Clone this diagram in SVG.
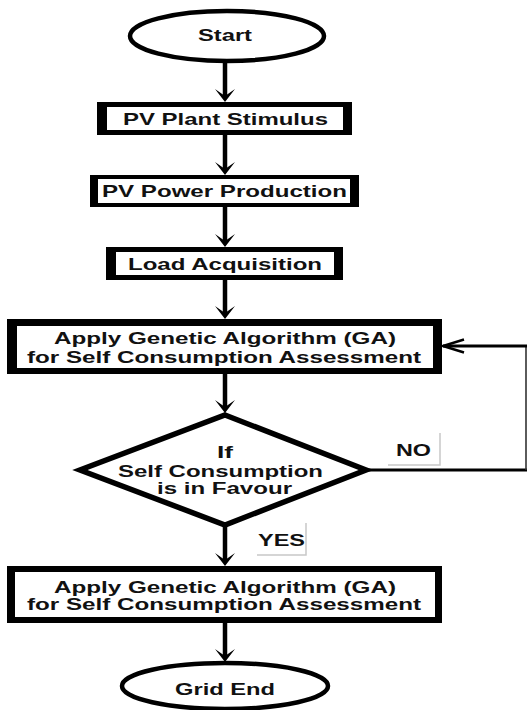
<svg xmlns="http://www.w3.org/2000/svg" width="529" height="710" viewBox="0 0 529 710">
<style>
  .t { font-family: "Liberation Sans", Arial, sans-serif; font-weight: bold; fill: #111; text-anchor: middle; }
  .box-o { fill: #000; }
  .box-i { fill: #fff; }
  .term { fill: #fff; stroke: #000; stroke-width: 4.5; }
  .dia { fill: #fff; stroke: #000; stroke-width: 5.5; stroke-linejoin: miter; }
  .arr { stroke: #000; stroke-width: 4.5; fill: none; marker-end: url(#ah); }
  .loop { stroke: #000; stroke-width: 3; fill: none; }
  .loopv { stroke: #333; stroke-width: 1.6; fill: none; }
  .shadow { stroke: #c8c8c8; stroke-width: 1.5; fill: none; }
</style>
<defs>
  <marker id="ah" markerUnits="userSpaceOnUse" orient="auto" refX="-6" refY="0" markerWidth="20" markerHeight="20" overflow="visible">
    <path d="M0,0 L-13,-10 L-6,0 L-13,10 Z" fill="#000"/>
  </marker>
  <marker id="ah2" markerUnits="userSpaceOnUse" orient="auto" refX="0" refY="0" markerWidth="24" markerHeight="16" overflow="visible">
    <path d="M-21,-6.5 L0,0 L-21,6.5" fill="none" stroke="#000" stroke-width="2.5"/>
  </marker>
</defs>
<rect width="529" height="710" fill="#fff"/>

<g id="connectors">
  <line class="arr" x1="225" y1="62" x2="225" y2="96"/>
  <line class="arr" x1="225" y1="135" x2="225" y2="169"/>
  <line class="arr" x1="225" y1="207" x2="225" y2="241"/>
  <line class="arr" x1="225" y1="280" x2="225" y2="313"/>
  <line class="arr" x1="225" y1="374" x2="225" y2="407"/>
  <line class="arr" x1="225" y1="525" x2="225" y2="560"/>
  <line class="arr" x1="225" y1="623" x2="225" y2="656"/>
  <line class="loop" x1="366" y1="470" x2="527" y2="470"/>
  <line class="loopv" x1="526" y1="470" x2="526" y2="346"/>
  <line class="loop" x1="527" y1="346" x2="443" y2="346" marker-end="url(#ah2)"/>
</g>

<g id="start">
  <ellipse class="term" cx="227" cy="36" rx="97" ry="25"/>
  <text class="t" x="225" y="41" font-size="17" textLength="54" lengthAdjust="spacingAndGlyphs">Start</text>
</g>

<g id="pv-plant-stimulus">
  <rect class="box-o" x="97" y="102" width="255" height="33"/>
  <rect class="box-i" x="107" y="107" width="236" height="23"/>
  <text class="t" x="225.5" y="124.5" font-size="17" textLength="205" lengthAdjust="spacingAndGlyphs">PV Plant Stimulus</text>
</g>

<g id="pv-power-production">
  <rect class="box-o" x="90" y="175" width="269" height="32"/>
  <rect class="box-i" x="98" y="179" width="252" height="24"/>
  <text class="t" x="224.5" y="197" font-size="17" textLength="245" lengthAdjust="spacingAndGlyphs">PV Power Production</text>
</g>

<g id="load-acquisition">
  <rect class="box-o" x="106" y="247" width="237" height="33"/>
  <rect class="box-i" x="116" y="252" width="218" height="23"/>
  <text class="t" x="225" y="269.5" font-size="17" textLength="194" lengthAdjust="spacingAndGlyphs">Load Acquisition</text>
</g>

<g id="apply-ga-1">
  <rect class="box-o" x="7" y="319" width="435" height="55"/>
  <rect class="box-i" x="17" y="326" width="416" height="42"/>
  <text class="t" x="225" y="343.5" font-size="16.5" textLength="342" lengthAdjust="spacingAndGlyphs">Apply Genetic Algorithm (GA)</text>
  <text class="t" x="224" y="362.5" font-size="16.5" textLength="394" lengthAdjust="spacingAndGlyphs">for Self Consumption Assessment</text>
</g>

<g id="decision">
  <polygon class="dia" points="225,415 366,470 225,525 80,470"/>
  <text class="t" x="225" y="457.5" font-size="16" textLength="16" lengthAdjust="spacingAndGlyphs">If</text>
  <text class="t" x="220.5" y="476.5" font-size="16" textLength="205" lengthAdjust="spacingAndGlyphs">Self Consumption</text>
  <text class="t" x="224.5" y="493.5" font-size="16" textLength="135" lengthAdjust="spacingAndGlyphs">is in Favour</text>
</g>

<g id="label-no">
  <polyline class="shadow" points="388,465 440,465 440,433"/>
  <text class="t" x="413.5" y="455.5" font-size="16" textLength="35" lengthAdjust="spacingAndGlyphs">NO</text>
</g>

<g id="label-yes">
  <polyline class="shadow" points="257,555 306,555 306,523"/>
  <text class="t" x="281.5" y="545.5" font-size="16" textLength="47" lengthAdjust="spacingAndGlyphs">YES</text>
</g>

<g id="apply-ga-2">
  <rect class="box-o" x="7" y="566" width="435" height="57"/>
  <rect class="box-i" x="15" y="572" width="420" height="45"/>
  <text class="t" x="225" y="592.5" font-size="16.5" textLength="342" lengthAdjust="spacingAndGlyphs">Apply Genetic Algorithm (GA)</text>
  <text class="t" x="224" y="610" font-size="16.5" textLength="394" lengthAdjust="spacingAndGlyphs">for Self Consumption Assessment</text>
</g>

<g id="grid-end">
  <ellipse class="term" cx="225" cy="686" rx="103" ry="23"/>
  <text class="t" x="225" y="694.5" font-size="16.5" textLength="100" lengthAdjust="spacingAndGlyphs">Grid End</text>
</g>
</svg>
